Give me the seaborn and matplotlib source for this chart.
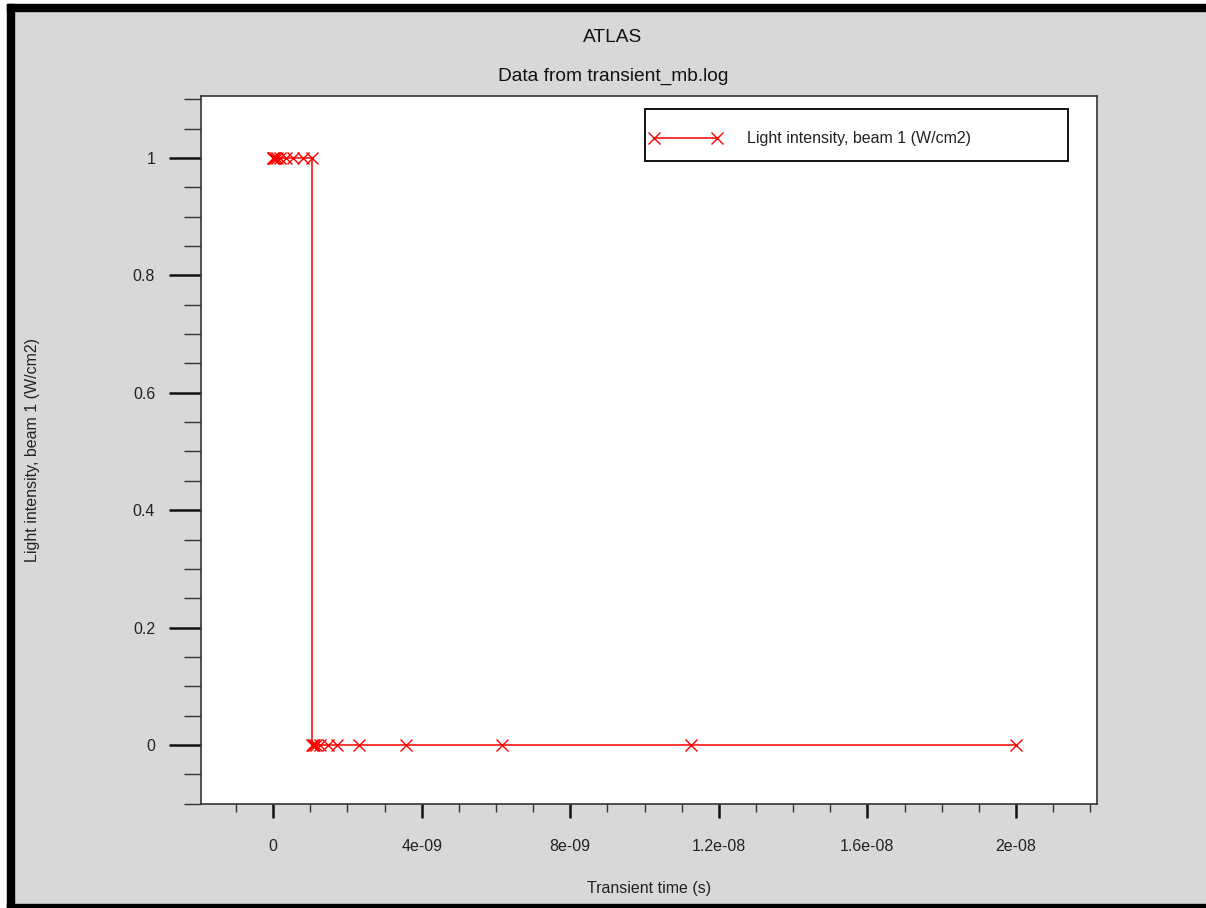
import matplotlib
matplotlib.use("Agg")
import matplotlib.pyplot as plt
from matplotlib.patches import Rectangle
from matplotlib.ticker import MultipleLocator
import numpy as np
import pandas as pd
import seaborn as sns

# ---- data ----
time_s = [0.0, 1e-11, 3e-11, 6e-11, 1.0e-10, 2.0e-10, 3.5e-10, 5.5e-10, 8.0e-10, 1.05e-9,
          1.05e-9, 1.07e-9, 1.10e-9, 1.16e-9, 1.26e-9, 1.48e-9, 1.72e-9,
          2.31e-9, 3.58e-9, 6.16e-9, 1.125e-8, 2.0e-8]
intensity = [1, 1, 1, 1, 1, 1, 1, 1, 1, 1,
             0, 0, 0, 0, 0, 0, 0,
             0, 0, 0, 0, 0]
series_label = "Light intensity, beam 1 (W/cm2)"
title_main = "ATLAS"
title_sub = "Data from transient_mb.log"
x_label = "Transient time (s)"
y_label = "Light intensity, beam 1 (W/cm2)"
x_ticks = [0, 4e-9, 8e-9, 1.2e-8, 1.6e-8, 2e-8]
x_ticklabels = ["0", "4e-09", "8e-09", "1.2e-08", "1.6e-08", "2e-08"]
y_ticks = [0, 0.2, 0.4, 0.6, 0.8, 1]
y_ticklabels = ["0", "0.2", "0.4", "0.6", "0.8", "1"]

df = pd.DataFrame({"t": time_s, "v": intensity})

sns.set_style("ticks")
plt.rcParams["font.family"] = ["Liberation Sans", "DejaVu Sans"]

W, H = 1206, 908
fig = plt.figure(figsize=(W / 100, H / 100), dpi=100, facecolor="#d8d8d8")

# window-like border
def px_rect(x0, y0, x1, y1, color):
    fig.patches.append(Rectangle((x0 / W, 1 - y1 / H), (x1 - x0) / W, (y1 - y0) / H,
                                 transform=fig.transFigure, color=color, zorder=0))

px_rect(0, 0, W, 4, "white")
px_rect(0, 0, 7, H, "white")
px_rect(7, 4, W, 11, "black")
px_rect(7, 4, 14, H, "black")
px_rect(7, 904, W, H, "black")

AX_L, AX_R, AX_T, AX_B = 201, 1097, 96, 804
ax = fig.add_axes([AX_L / W, 1 - AX_B / H, (AX_R - AX_L) / W, (AX_B - AX_T) / H])
ax.set_facecolor("white")

sns.lineplot(data=df, x="t", y="v", ax=ax, estimator=None, sort=False,
             color="#ff0000", linewidth=1.1, marker="x", markersize=9,
             markeredgewidth=1.0, markeredgecolor="#ff0000", label=series_label)

ax.set_xlim(-1.94e-9, 2.218e-8)
ax.set_ylim(-0.1005, 1.1056)
ax.set_xticks(x_ticks)
ax.set_xticklabels(x_ticklabels)
ax.set_yticks(y_ticks)
ax.set_yticklabels(y_ticklabels)
ax.xaxis.set_minor_locator(MultipleLocator(1e-9))
ax.yaxis.set_minor_locator(MultipleLocator(0.05))

spine_c = "#333333"
for s in ax.spines.values():
    s.set_visible(True)
    s.set_color(spine_c)
    s.set_linewidth(1.2)

ax.tick_params(axis="x", which="major", direction="out", length=10, width=1.8,
               color="#111111", pad=15, labelsize=11.5, labelcolor="#222222")
ax.tick_params(axis="x", which="minor", direction="out", length=6, width=1.0, color="#333333")
ax.tick_params(axis="y", which="major", direction="out", length=23, width=1.8,
               color="#111111", pad=10, labelsize=11.5, labelcolor="#222222")
ax.tick_params(axis="y", which="minor", direction="out", length=12, width=1.0, color="#333333")
ax.tick_params(top=False, right=False)

ax.set_xlabel("")
ax.set_ylabel("")
fig.text(649 / W, 1 - 888 / H, x_label, ha="center", va="center", fontsize=11.5, color="#222222")
fig.text(33 / W, 1 - 450 / H, y_label, ha="center", va="center", rotation=90,
         fontsize=11.5, color="#222222")
fig.text(613 / W, 1 - 37 / H, title_main, ha="center", va="center", fontsize=13.8, color="#111111")
fig.text(613 / W, 1 - 76 / H, title_sub, ha="center", va="center", fontsize=13.8, color="#111111")

def ax_x(px):
    return (px - AX_L) / (AX_R - AX_L)

def ax_y(py):
    return 1 - (py - AX_T) / (AX_B - AX_T)

# legend frame drawn separately so the box can be wider than its content
ax.add_patch(Rectangle((ax_x(645), ax_y(161)), ax_x(1068) - ax_x(645), ax_y(109) - ax_y(161),
                       transform=ax.transAxes, facecolor="white", edgecolor="black",
                       linewidth=1.3, zorder=4, clip_on=False))
leg = ax.legend(loc="center left", bbox_to_anchor=(ax_x(649), ax_y(139)),
                borderaxespad=0, borderpad=0, frameon=False, fontsize=11.5,
                handlelength=4.54, handletextpad=1.59, numpoints=2)
leg.set_zorder(5)
for t in leg.get_texts():
    t.set_color("#222222")

fig.savefig("out.png", dpi=100, facecolor=fig.get_facecolor())
